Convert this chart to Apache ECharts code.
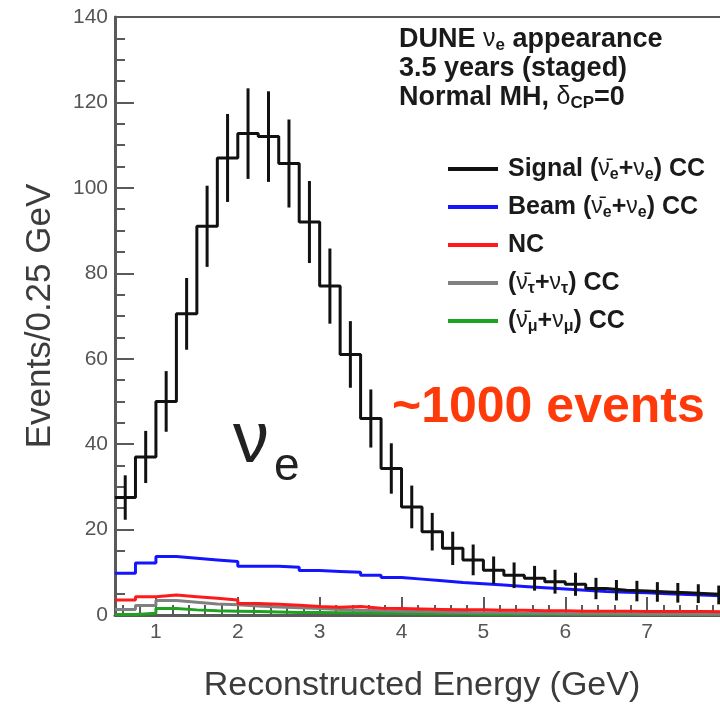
<!DOCTYPE html>
<html><head><meta charset="utf-8">
<script src="https://cdn.jsdelivr.net/npm/echarts@6/dist/echarts.min.js"></script>
<style>html,body{margin:0;padding:0;background:#fff}#c{width:720px;height:708px}</style>
</head><body><div id="c"></div>
<script>
// Bin edges (0.25 GeV bins)
const binEdges = [0.5,0.75,1.0,1.25,1.5,1.75,2.0,2.25,2.5,2.75,3.0,3.25,3.5,3.75,4.0,4.25,4.5,4.75,5.0,5.25,5.5,5.75,6.0,6.25,6.5,6.75,7.0,7.25,7.5,7.75,8.0];
// Series values per bin
const signal    = [27.5,37,50,70.5,91,107,112.7,112,105.7,92,77,61,46,34.3,25.3,19.5,15.6,12.9,10.5,9.3,8.6,7.8,7.2,6.2,5.8,5.6,5.4,5.2,5.0,4.7];
const signalErr = [5.2,6.1,7.1,8.4,9.5,10.3,10.6,10.6,10.3,9.6,8.8,7.8,6.8,5.9,5.0,4.4,3.9,3.6,3.2,3.0,2.9,2.8,2.7,2.5,2.4,2.4,2.3,2.3,2.2,2.2];
const beam      = [9.8,12.2,13.7,13.3,12.9,12.5,11.4,11.4,11.2,10.4,10.2,10.0,9.3,8.8,8.4,8.0,7.6,7.3,7.0,6.7,6.4,6.1,5.8,5.5,5.3,5.2,5.0,4.8,4.6,4.4];
const nc        = [3.5,4.3,4.7,4.3,3.9,3.5,2.7,2.5,2.3,2.0,1.8,2.0,1.6,1.5,1.4,1.3,1.2,1.2,1.1,1.1,1.0,1.0,0.9,0.9,0.9,0.8,0.8,0.8,0.8,0.7];
const tau       = [1.3,2.2,3.4,3.0,2.6,2.4,2.1,1.9,1.7,1.5,1.3,1.1,1.0,0.9,0.8,0.7,0.6,0.5,0.5,0.4,0.4,0.3,0.3,0.3,0.3,0.2,0.2,0.2,0.2,0.2];
const numu      = [0.1,0.4,1.5,1.2,1.0,0.9,0.8,0.7,0.6,0.6,0.5,0.5,0.4,0.4,0.3,0.3,0.3,0.2,0.2,0.2,0.2,0.2,0.1,0.1,0.1,0.1,0.1,0.1,0.1,0.1];
// Tick labels
const xTickLabels = [1,2,3,4,5,6,7,8];
const yTickLabels = [0,20,40,60,80,100,120,140];

const FONT = '"Liberation Sans", Arial, Helvetica, sans-serif';
const AX = '#5a5a5a';

function stepData(vals){
  const d = vals.map((v,i)=>[binEdges[i], v]);
  d.push([binEdges[vals.length], vals[vals.length-1]]);
  return d;
}
const minorX = [];
for (let k = 3; k < 40; k++) { if (k % 5 !== 0) minorX.push(Math.round(k*2)/10); }

const legendText = {
  signal: 'Signal ({n|ν̄}{s|e}+{n|ν}{s|e}) CC',
  beam:   'Beam ({n|ν̄}{s|e}+{n|ν}{s|e}) CC',
  nc:     'NC',
  tau:    '({n|ν̄}{s|τ}+{n|ν}{s|τ}) CC',
  numu:   '({n|ν̄}{s|μ}+{n|ν}{s|μ}) CC'
};

function hist(name, vals, color, z){
  return {type:'line', name, data: stepData(vals), step:'end', showSymbol:false, symbol:'none',
    color, lineStyle:{color, width:3}, z, silent:true, animation:false, clip:true};
}

const chart = echarts.init(document.getElementById('c'), null, {renderer:'canvas'});
chart.setOption({
  animation:false,
  backgroundColor:'#fff',
  textStyle:{fontFamily:FONT},
  grid:{left:115, right:-9, top:17, bottom:93, outerBoundsMode:'none', containLabel:false,
    show:true, borderColor:AX, borderWidth:2, backgroundColor:'transparent'},
  title:{
    left:399, top:25, padding:0,
    text:'DUNE {n|ν}{s|e} appearance\n3.5 years (staged)\nNormal MH, {n|δ}{s|CP}=0',
    textStyle:{fontFamily:FONT, fontSize:27, fontWeight:'bold', color:'#1a1a1a', lineHeight:29,
      rich:{
        n:{fontFamily:FONT, fontSize:25, fontWeight:'normal', color:'#1a1a1a', lineHeight:29},
        s:{fontFamily:FONT, fontSize:17, fontWeight:'bold', color:'#1a1a1a', lineHeight:16, verticalAlign:'bottom'}
      }}
  },
  legend:{
    orient:'vertical', left:448, top:155, padding:0, itemWidth:50, itemHeight:4, itemGap:10, icon:'rect',
    data:['signal','beam','nc','tau','numu'],
    formatter:(name)=>legendText[name],
    textStyle:{fontFamily:FONT, fontSize:25, fontWeight:'bold', color:'#1a1a1a', lineHeight:28, padding:[0,0,0,5],
      rich:{
        n:{fontFamily:FONT, fontSize:23, fontWeight:'normal', color:'#1a1a1a', lineHeight:28},
        s:{fontFamily:FONT, fontSize:16, fontWeight:'bold', color:'#1a1a1a', lineHeight:15, verticalAlign:'bottom'}
      }},
    selectedMode:false
  },
  xAxis:[{
    type:'value', min:0.5, max:8,
    name:'Reconstructed Energy (GeV)', nameLocation:'middle', nameGap:54,
    nameTextStyle:{fontFamily:FONT, fontSize:34, color:'#3c3c3c'},
    axisLine:{show:true, onZero:false, lineStyle:{color:AX, width:3}},
    axisTick:{show:true, inside:true, length:18, customValues:xTickLabels, lineStyle:{color:AX, width:2}},
    axisLabel:{show:true, customValues:xTickLabels, fontFamily:FONT, fontSize:21, color:'#555', margin:7, hideOverlap:false},
    splitLine:{show:false}
  },{
    type:'value', min:0.5, max:8, position:'bottom', gridIndex:0,
    axisLine:{show:false},
    axisTick:{show:true, inside:true, length:10, customValues:minorX, lineStyle:{color:AX, width:2}},
    axisLabel:{show:false}, splitLine:{show:false}
  }],
  yAxis:{
    type:'value', min:0, max:140, interval:20,
    name:'Events/0.25 GeV', nameLocation:'middle', nameGap:57,
    nameTextStyle:{fontFamily:FONT, fontSize:35, color:'#3c3c3c'},
    axisLine:{show:true, lineStyle:{color:AX, width:3}},
    axisTick:{show:true, inside:true, length:19, lineStyle:{color:AX, width:2}},
    minorTick:{show:true, splitNumber:4, length:10, lineStyle:{color:AX, width:2}},
    axisLabel:{fontFamily:FONT, fontSize:21, color:'#555', margin:7,
      formatter:(v)=> yTickLabels.indexOf(v) >= 0 ? String(v) : ''},
    splitLine:{show:false}
  },
  graphic:[
    {type:'text', x:233, y:442, silent:true, style:{text:'ν', fontFamily:FONT, fontSize:72, fill:'#222', align:'left', verticalAlign:'middle'}},
    {type:'text', x:274, y:467, silent:true, style:{text:'e', fontFamily:FONT, fontSize:46, fill:'#222', align:'left', verticalAlign:'middle'}},
    {type:'text', x:392, y:408, silent:true, style:{text:'~1000 events', fontFamily:FONT, fontSize:50, fontWeight:'bold', fill:'#ff3a0a', align:'left', verticalAlign:'middle'}}
  ],
  series:[
    hist('numu', numu, '#1fa21f', 2),
    hist('tau', tau, '#808080', 3),
    hist('nc', nc, '#ff1a1a', 4),
    hist('beam', beam, '#1414ff', 5),
    hist('signal', signal, '#111111', 6),
    {
      type:'custom', name:'signalErr', silent:true, z:7, clip:true,
      data: signal.map((v,i)=>[(binEdges[i]+binEdges[i+1])/2, v, signalErr[i]]),
      encode:{x:0, y:1},
      renderItem:(params, api)=>{
        const x = api.value(0), y = api.value(1), e = api.value(2);
        const p1 = api.coord([x, y+e]), p2 = api.coord([x, y-e]);
        return {type:'line', shape:{x1:p1[0], y1:p1[1], x2:p2[0], y2:p2[1]}, style:{stroke:'#111', lineWidth:3}};
      }
    }
  ]
});
</script></body></html>
